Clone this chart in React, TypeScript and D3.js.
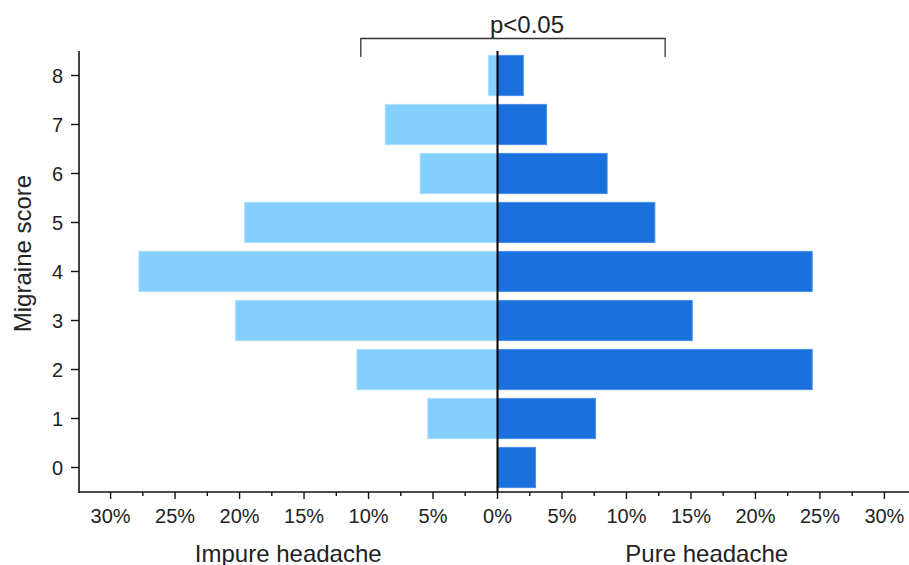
import React from "react";
import * as d3 from "d3";

const scores = [0, 1, 2, 3, 4, 5, 6, 7, 8];
const impure = [0, 5.4, 10.9, 20.3, 27.8, 19.6, 6.0, 8.7, 0.7];
const pure = [2.95, 7.6, 24.4, 15.1, 24.4, 12.2, 8.5, 3.8, 2.0];
const xTicks = [-30, -25, -20, -15, -10, -5, 0, 5, 10, 15, 20, 25, 30];
const xMinor = [-27.5, -22.5, -17.5, -12.5, -7.5, -2.5, 2.5, 7.5, 12.5, 17.5, 22.5, 27.5];
const yTicks = [0, 1, 2, 3, 4, 5, 6, 7, 8];
const sigLabel = "p<0.05";
const sigRange = [-10.6, 13.0];

const W = 909;
const H = 565;
const font = "'Liberation Sans', Arial, sans-serif";
const textColor = "#222";

export default function App() {
  const x = d3.scaleLinear().domain([-32.45, 32.45]).range([79, 916]);
  const y = d3.scaleLinear().domain([-0.5, 8.5]).range([492, 51]);
  const bh = 0.82 * (y(0) - y(1));
  const axisY = 492;
  const axisX = 79;

  return (
    <svg width={W} height={H} style={{ position: "absolute", left: 0, top: 0 }}>
      <rect width={W} height={H} fill="#fff" />
      {/* bars */}
      {scores.map((s, i) => (
        <g key={s}>
          {impure[i] > 0 && (
            <rect
              x={x(-impure[i])}
              y={y(s) - bh / 2}
              width={x(0) - x(-impure[i])}
              height={bh}
              fill="#85CFFF"
              stroke="#A9DDFF"
              strokeWidth={1}
            />
          )}
          <rect
            x={x(0)}
            y={y(s) - bh / 2}
            width={x(pure[i]) - x(0)}
            height={bh}
            fill="#1A70DD"
            stroke="#4A8EE8"
            strokeWidth={1}
          />
        </g>
      ))}
      {/* center line */}
      <line x1={x(0)} x2={x(0)} y1={51} y2={axisY} stroke="#000" strokeWidth={2} />
      {/* y axis */}
      <line x1={axisX} x2={axisX} y1={51} y2={axisY + 1} stroke="#111" strokeWidth={1.6} />
      {yTicks.map((t) => (
        <g key={t}>
          <line x1={axisX - 8} x2={axisX} y1={y(t)} y2={y(t)} stroke="#111" strokeWidth={1.4} />
          <text x={axisX - 16} y={y(t)} dy="0.36em" textAnchor="end" fontFamily={font} fontSize={20} fill={textColor}>
            {t}
          </text>
        </g>
      ))}
      {/* x axis */}
      <line x1={axisX} x2={W} y1={axisY} y2={axisY} stroke="#111" strokeWidth={1.6} />
      {xTicks.map((t) => (
        <g key={t}>
          <line x1={x(t)} x2={x(t)} y1={axisY} y2={axisY + 7} stroke="#111" strokeWidth={1.4} />
          <text x={x(t)} y={523} textAnchor="middle" fontFamily={font} fontSize={20} fill={textColor}>
            {Math.abs(t) + "%"}
          </text>
        </g>
      ))}
      {xMinor.map((t) => (
        <line key={t} x1={x(t)} x2={x(t)} y1={axisY} y2={axisY + 4} stroke="#111" strokeWidth={1.4} />
      ))}
      {/* axis titles */}
      <text x={(axisX + x(0)) / 2} y={562} textAnchor="middle" fontFamily={font} fontSize={24} fill={textColor}>
        Impure headache
      </text>
      <text x={(x(0) + 916) / 2} y={562} textAnchor="middle" fontFamily={font} fontSize={24} fill={textColor}>
        Pure headache
      </text>
      <text
        transform={`translate(31, ${(51 + axisY) / 2 - 18}) rotate(-90)`}
        textAnchor="middle"
        fontFamily={font}
        fontSize={24}
        fill={textColor}
      >
        Migraine score
      </text>
      {/* significance bracket */}
      <path
        d={`M${x(sigRange[0])},57 V38.5 H${x(sigRange[1])} V57`}
        fill="none"
        stroke="#333"
        strokeWidth={1.3}
      />
      <text x={(x(sigRange[0]) + x(sigRange[1])) / 2 - 286 + 300} y={33} textAnchor="middle" fontFamily={font} fontSize={24} fill={textColor}>
        {sigLabel}
      </text>
    </svg>
  );
}
